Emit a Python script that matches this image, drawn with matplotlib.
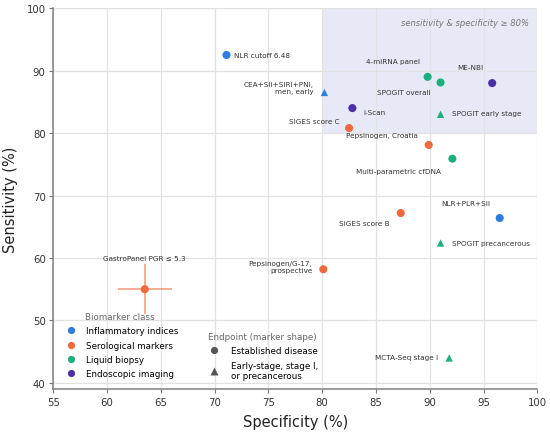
import matplotlib
matplotlib.use("Agg")
import matplotlib.pyplot as plt
from matplotlib.lines import Line2D
from matplotlib.patches import Rectangle

# studies
labels = [
    "NLR cutoff 6.48", "CEA+SII+SIRI+PNI,\nmen, early", "i-Scan", "SIGES score C",
    "Pepsinogen, Croatia", "4-miRNA panel", "SPOGIT overall", "ME-NBI",
    "SPOGIT early stage", "Multi-parametric cfDNA", "SIGES score B", "NLR+PLR+SII",
    "SPOGIT precancerous", "Pepsinogen/G-17,\nprospective", "GastroPanel PGR \u2264 5.3",
    "MCTA-Seq stage I",
]
specificity = [71.1, 80.2, 82.8, 82.5, 89.9, 89.8, 91.0, 95.8,
               91.0, 92.1, 87.3, 96.5, 91.0, 80.1, 63.5, 91.8]
sensitivity = [92.5, 86.5, 84.0, 80.8, 78.1, 89.0, 88.1, 88.0,
               83.0, 75.9, 67.2, 66.4, 62.4, 58.2, 55.0, 44.0]
classes = ["Inflammatory indices", "Inflammatory indices", "Endoscopic imaging", "Serological markers",
           "Serological markers", "Liquid biopsy", "Liquid biopsy", "Endoscopic imaging",
           "Liquid biopsy", "Liquid biopsy", "Serological markers", "Inflammatory indices",
           "Liquid biopsy", "Serological markers", "Serological markers", "Liquid biopsy"]
early = [False, True, False, False, False, False, False, False,
         True, False, False, False, True, False, False, True]

# label placement: offset in pixels and horizontal alignment
label_pos = [
    (7, 0, "left"), (-11, 5, "right"), (11, -4, "left"), (-10, 7, "right"),
    (-11, 10, "right"), (-8, 16, "right"), (-10, -10, "right"), (-9, 16, "right"),
    (11, 1, "left"), (-11, -12, "right"), (-11, -10, "right"), (-9, 15, "right"),
    (11, 0, "left"), (-11, 3, "right"), (0, 31, "center"), (-11, 1, "right"),
]

# GastroPanel ranges
gp_xerr = 2.5
gp_yerr = 4.0

class_order = ["Inflammatory indices", "Serological markers", "Liquid biopsy", "Endoscopic imaging"]
class_colors = {
    "Inflammatory indices": "#2f7de1",
    "Serological markers": "#f0693a",
    "Liquid biopsy": "#1bb07c",
    "Endoscopic imaging": "#4b2ea8",
}

fig = plt.figure(figsize=(5.5, 4.35), dpi=100)
ax = fig.add_axes([0.097, 0.103, 0.880, 0.876])

ax.set_xlim(55, 100)
ax.set_ylim(39, 100)
ax.set_axisbelow(True)
ax.grid(True, color="#e2e2e2", linewidth=0.9)

ax.add_patch(Rectangle((80, 80), 20, 20, facecolor="#e7eaf6", edgecolor="none", zorder=0.2))
ax.text(0.982, 0.963, "sensitivity & specificity \u2265 80%", transform=ax.transAxes,
        ha="right", va="center", fontsize=6.0, style="italic", color="#777777")

gi = labels.index("GastroPanel PGR \u2264 5.3")
ax.errorbar(specificity[gi], sensitivity[gi], xerr=gp_xerr, yerr=gp_yerr, fmt="none",
            ecolor="#f0693a", alpha=0.55, elinewidth=1.4, capsize=0, zorder=2)

for x, y, c, e in zip(specificity, sensitivity, classes, early):
    ax.scatter(x, y, s=28 if e else 34, marker="^" if e else "o",
               color=class_colors[c], edgecolors="none", zorder=3)

px = 72 / fig.dpi
for lab, x, y, (dx, dy, ha) in zip(labels, specificity, sensitivity, label_pos):
    ax.annotate(lab, (x, y), xytext=(dx * px, dy * px), textcoords="offset points",
                ha=ha, va="center", multialignment=ha,
                fontsize=5.2, color="#333333", linespacing=1.25, zorder=4)

ax.set_xticks(range(55, 101, 5))
ax.set_yticks(range(40, 101, 10))
ax.tick_params(labelsize=7.3, colors="#333333", length=3, width=0.8, pad=2.5)
ax.tick_params(color="#777777")
for side in ("top", "right"):
    ax.spines[side].set_visible(False)
for side in ("left", "bottom"):
    ax.spines[side].set_color("#808080")
    ax.spines[side].set_linewidth(1.1)

ax.set_xlabel("Specificity (%)", fontsize=10.5, color="#222222", labelpad=5)
ax.set_ylabel("Sensitivity (%)", fontsize=10.5, color="#222222", labelpad=6)

class_handles = [Line2D([], [], marker="o", linestyle="none", markersize=5.2,
                        markerfacecolor=class_colors[c], markeredgecolor="none", label=c)
                 for c in class_order]
leg1 = ax.legend(handles=class_handles, title="Biomarker class", loc="lower left",
                 bbox_to_anchor=(0.005, 0.012), frameon=False, fontsize=6.3, title_fontsize=6.3,
                 handletextpad=0.8, labelspacing=0.62, borderaxespad=0.3)
leg1.get_title().set_color("#666666")
ax.add_artist(leg1)

shape_handles = [
    Line2D([], [], marker="o", linestyle="none", markersize=5.2, markerfacecolor="#555555",
           markeredgecolor="none", label="Established disease"),
    Line2D([], [], marker="^", linestyle="none", markersize=5.8, markerfacecolor="#555555",
           markeredgecolor="none", label="Early-stage, stage I,\nor precancerous"),
]
leg2 = ax.legend(handles=shape_handles, title="Endpoint (marker shape)", loc="lower left",
                 bbox_to_anchor=(0.302, 0.008), frameon=False, fontsize=6.3, title_fontsize=6.3,
                 handletextpad=0.9, labelspacing=0.62, borderaxespad=0.3)
leg2.get_title().set_color("#666666")

fig.savefig("out.png", dpi=100)
